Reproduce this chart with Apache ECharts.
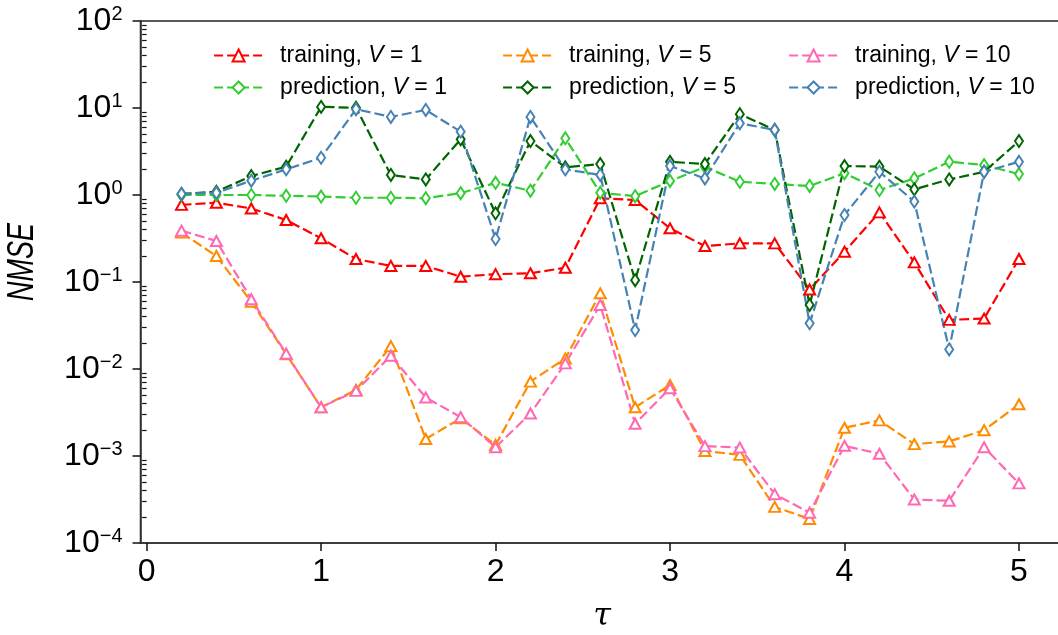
<!DOCTYPE html>
<html>
<head>
<meta charset="utf-8">
<script src="https://cdn.jsdelivr.net/npm/echarts@6/dist/echarts.min.js"></script>
<style>
html,body{margin:0;padding:0;background:#fff;}
#chart{width:1058px;height:635px;}
</style>
</head>
<body>
<div id="chart"></div>
<script>
// ---- data ----
const tau = [0.2,0.4,0.6,0.8,1.0,1.2,1.4,1.6,1.8,2.0,2.2,2.4,2.6,2.8,3.0,3.2,3.4,3.6,3.8,4.0,4.2,4.4,4.6,4.8,5.0];
const trainV1 = [0.77,0.815,0.70,0.516,0.318,0.184,0.153,0.153,0.115,0.123,0.126,0.146,0.916,0.876,0.414,0.259,0.278,0.278,0.082,0.223,0.632,0.168,0.0367,0.038,0.184];
const predV1 = [1.0,1.0,1.0,0.98,0.96,0.93,0.93,0.92,1.05,1.38,1.12,4.48,1.06,0.97,1.45,2.1,1.42,1.34,1.27,1.78,1.14,1.55,2.41,2.21,1.74];
const trainV5 = [0.369,0.199,0.0593,0.0148,0.00363,0.00577,0.0183,0.00157,0.00271,0.00134,0.00716,0.0132,0.0742,0.00363,0.00654,0.00114,0.00103,0.00026,0.000189,0.00211,0.00257,0.00137,0.00147,0.00198,0.00393];
const predV5 = [1.03,1.09,1.65,2.12,10.3,10.07,1.70,1.51,4.37,0.616,4.17,2.08,2.27,0.105,2.41,2.27,8.5,5.6,0.0545,2.15,2.12,1.16,1.51,1.85,4.17];
const trainV10 = [0.389,0.296,0.0634,0.015,0.00363,0.0056,0.0142,0.0047,0.0028,0.00126,0.00308,0.0116,0.0545,0.00235,0.00601,0.0013,0.00125,0.000364,0.000223,0.00131,0.00106,0.000316,0.000306,0.00126,0.000484];
const predV10 = [1.03,1.06,1.46,1.97,2.68,9.7,7.9,9.5,5.35,0.312,7.9,1.97,1.70,0.028,2.15,1.55,6.67,5.6,0.0335,0.589,1.85,0.84,0.0168,1.85,2.41];
const xTicks = [0,1,2,3,4,5];
const yTicks = [1e-4,1e-3,1e-2,1e-1,1e0,1e1,1e2];
const yMinor = [];
for (let e = -4; e < 2; e++) for (let m = 2; m <= 9; m++) yMinor.push(m * Math.pow(10, e));

const seriesDefs = [
  {name:'training, V = 1', data:trainV1, color:'#ff0000', sym:'emptyTriangle'},
  {name:'prediction, V = 1', data:predV1, color:'#32cd32', sym:'emptyDiamond'},
  {name:'training, V = 5', data:trainV5, color:'#ff8c00', sym:'emptyTriangle'},
  {name:'prediction, V = 5', data:predV5, color:'#006400', sym:'emptyDiamond'},
  {name:'training, V = 10', data:trainV10, color:'#ff69b4', sym:'emptyTriangle'},
  {name:'prediction, V = 10', data:predV10, color:'#4682b4', sym:'emptyDiamond'}
];
// legend placement (column-major, 3 columns x 2 rows)
const legendPos = [[213,44],[213,76],[502,44],[502,76],[788,44],[788,76]];

const FONT = 'Liberation Sans, Arial, sans-serif';
const chart = echarts.init(document.getElementById('chart'), null, {renderer:'canvas'});

const option = {
  animation:false,
  backgroundColor:'#fff',
  grid:{left:140.5, top:21, right:-6, bottom:92, show:true, borderColor:'#222', borderWidth:1.5, outerBoundsMode:'none'},
  xAxis:{
    type:'value', min:-0.035, max:5.258,
    axisLine:{show:true, onZero:false, lineStyle:{color:'#333', width:1.5}},
    axisTick:{show:true, inside:false, length:8, customValues:xTicks, lineStyle:{color:'#111', width:1.5}},
    axisLabel:{show:true, customValues:xTicks, margin:13, fontSize:32, fontFamily:FONT, color:'#000'},
    splitLine:{show:false}
  },
  yAxis:[{
    type:'log', logBase:10, min:1e-4, max:1e2,
    axisLine:{show:true, onZero:false, lineStyle:{color:'#333', width:1.5}},
    axisTick:{show:true, inside:false, length:8, customValues:yTicks, lineStyle:{color:'#111', width:1.5}},
    axisLabel:{show:true, customValues:yTicks, margin:18, fontFamily:FONT, color:'#000',
      formatter:function(v){
        const e = Math.round(Math.log10(v));
        const s = e < 0 ? '\u2212' + (-e) : String(e);
        return '{a|10}{b|' + s + '}';
      },
      rich:{
        a:{fontSize:32, fontFamily:FONT, color:'#000', lineHeight:34, verticalAlign:'middle'},
        b:{fontSize:20, fontFamily:FONT, color:'#000', lineHeight:25, verticalAlign:'top'}
      }
    },
    splitLine:{show:false}
  },{
    type:'log', logBase:10, min:1e-4, max:1e2, position:'left',
    axisLine:{show:false},
    axisTick:{show:true, inside:false, length:4.5, customValues:yMinor, lineStyle:{color:'#111', width:1.2}},
    axisLabel:{show:false},
    splitLine:{show:false}
  }],
  legend: seriesDefs.map((s, i) => ({
    data:[s.name],
    left:legendPos[i][0], top:legendPos[i][1],
    padding:0, itemWidth:49, itemHeight:15,
    lineStyle:{width:2.2, type:[9,4]},
    formatter:function(name){
      const p = name.split('V');
      return '{n|' + p[0] + '}{i|V}{n|' + p[1] + '}';
    },
    textStyle:{
      padding:[0,0,0,12],
      rich:{
        n:{fontSize:23, fontFamily:FONT, color:'#000'},
        i:{fontSize:23, fontFamily:FONT, fontStyle:'italic', color:'#000'}
      }
    }
  })),
  graphic:[
    {type:'text', x:23, y:262, rotation:Math.PI/2, scaleY:1.35,
     style:{text:'NMSE', font:'italic 27px ' + FONT, fill:'#000', align:'center', verticalAlign:'middle'}},
    {type:'text', x:602, y:617,
     style:{text:'\u03c4', font:'italic 32px "DejaVu Serif", serif', fill:'#000', align:'center', verticalAlign:'middle'}}
  ],
  series: seriesDefs.map(s => ({
    name:s.name, type:'line', xAxisIndex:0, yAxisIndex:0,
    data:tau.map((t, k) => [t, s.data[k]]),
    symbol:s.sym,
    symbolSize: s.sym === 'emptyTriangle' ? [11,10] : [8,12],
    showAllSymbol:true,
    color:s.color,
    lineStyle:{color:s.color, width:2.2, type:[10,4]},
    itemStyle:{color:s.color, borderColor:s.color, borderWidth:2},
    emphasis:{disabled:true}
  }))
};
chart.setOption(option);
</script>
</body>
</html>
